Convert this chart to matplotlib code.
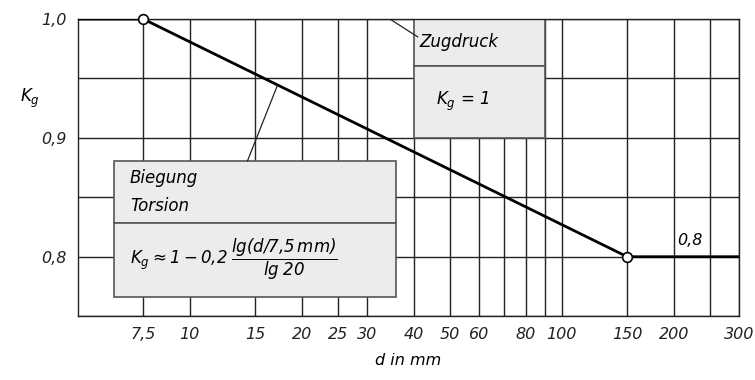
import matplotlib
matplotlib.use("Agg")
from matplotlib import pyplot as plt
from matplotlib.patches import Rectangle
import matplotlib.ticker as mticker

# curve K_g over d
d_curve = [5, 7.5, 150, 300]
kg_curve = [1.0, 1.0, 0.8, 0.8]
d_points = [7.5, 150]
kg_points = [1.0, 0.8]

# grid and tick labels
x_grid = [7.5, 10, 15, 20, 25, 30, 40, 50, 60, 70, 80, 90, 100, 150, 200, 250, 300]
x_ticks = [7.5, 10, 15, 20, 25, 30, 40, 50, 60, 80, 100, 150, 200, 300]
x_labels = ["7,5", "10", "15", "20", "25", "30", "40", "50", "60", "80", "100", "150", "200", "300"]
y_grid = [0.75, 0.8, 0.85, 0.9, 0.95, 1.0]
y_ticks = [0.8, 0.9, 1.0]
y_labels = ["0,8", "0,9", "1,0"]

plt.rcParams["font.family"] = "DejaVu Sans"
plt.rcParams["font.style"] = "italic"
plt.rcParams["mathtext.fontset"] = "custom"
plt.rcParams["mathtext.rm"] = "DejaVu Sans:italic"
plt.rcParams["mathtext.it"] = "DejaVu Sans:italic"

ink = "#222222"
boxfill = "#ececec"
boxedge = "#555555"

fig = plt.figure(figsize=(7.55, 3.8), dpi=100)
ax = fig.add_axes([0.103, 0.168, 0.876, 0.782])
ax.set_xscale("log")
ax.set_xlim(5, 300)
ax.set_ylim(0.75, 1.0)

for x in x_grid:
    ax.axvline(x, color=ink, lw=1.0, zorder=1)
for y in y_grid:
    ax.axhline(y, color=ink, lw=1.0, zorder=1)

ax.xaxis.set_major_locator(mticker.FixedLocator(x_ticks))
ax.xaxis.set_minor_locator(mticker.NullLocator())
ax.set_xticks(x_ticks)
ax.set_xticklabels(x_labels, fontsize=11.5, style="italic")
ax.set_yticks(y_ticks)
ax.set_yticklabels(y_labels, fontsize=11.5, style="italic")
ax.tick_params(length=0, pad=8, colors=ink)
for s in ax.spines.values():
    s.set_color(ink)
    s.set_linewidth(1.0)

# boxes on top of grid
ax.add_patch(Rectangle((40, 0.9605), 50, 0.0395, facecolor=boxfill, edgecolor=boxedge, lw=1.2, zorder=2))
ax.add_patch(Rectangle((40, 0.9), 50, 0.0605, facecolor=boxfill, edgecolor=boxedge, lw=1.2, zorder=2))
ax.add_patch(Rectangle((6.27, 0.8286), 35.8 - 6.27, 0.0521, facecolor=boxfill, edgecolor=boxedge, lw=1.2, zorder=2))
ax.add_patch(Rectangle((6.27, 0.7664), 35.8 - 6.27, 0.0622, facecolor=boxfill, edgecolor=boxedge, lw=1.2, zorder=2))

ax.plot(d_curve, kg_curve, color="black", lw=2.0, zorder=3)
ax.plot(d_points, kg_points, "o", ms=7, mfc="white", mec="black", mew=1.2, zorder=4, clip_on=False)

# leaders
ax.plot([34.5, 41], [1.0, 0.985], color=ink, lw=0.9, zorder=3)
ax.plot([17.2, 14.3], [0.944, 0.8807], color=ink, lw=0.9, zorder=3)

ax.text(41.5, 0.981, "Zugdruck", fontsize=12, va="center", ha="left", zorder=5)
ax.text(46, 0.931, r"$K_g$ = 1", fontsize=12, va="center", ha="left", zorder=5)
ax.text(6.9, 0.866, "Biegung", fontsize=12, va="center", ha="left", zorder=5)
ax.text(6.9, 0.843, "Torsion", fontsize=12, va="center", ha="left", zorder=5)
ax.text(6.9, 0.7975, r"$K_g \approx 1 - 0{,}2\;\dfrac{lg(d/7{,}5\,mm)}{lg\;20}$",
        fontsize=12, va="center", ha="left", zorder=5)
ax.text(205, 0.814, "0,8", fontsize=11.5, va="center", ha="left", zorder=5)

fig.text(0.027, 0.74, r"$K_g$", fontsize=12, va="center", ha="left")
ax.set_xlabel("d in mm", fontsize=11.5, style="italic", labelpad=8)

fig.savefig("out.png", dpi=100)
